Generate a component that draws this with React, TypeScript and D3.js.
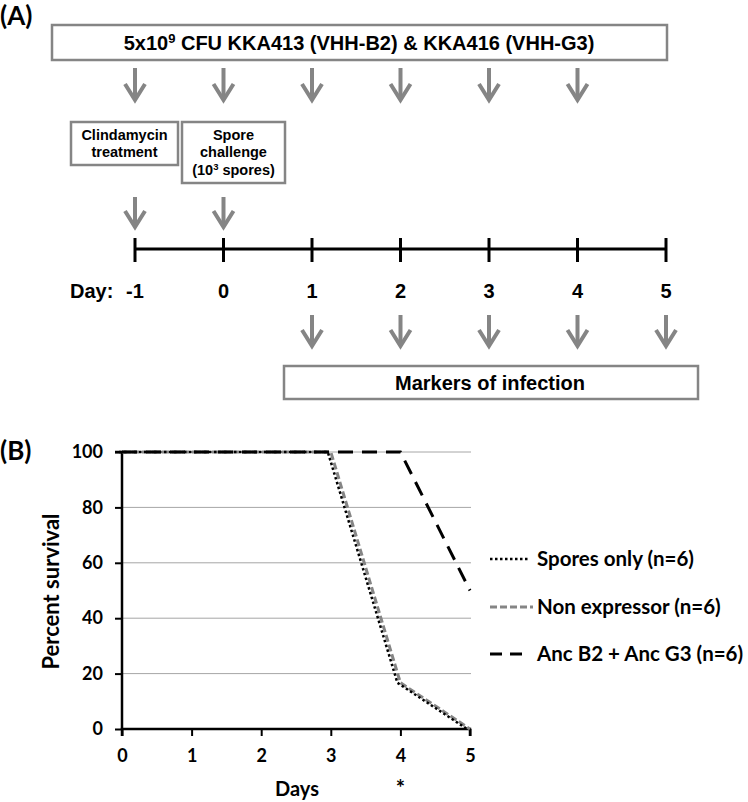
import React, { useEffect, useRef } from 'react';
import * as d3 from 'd3';

// (A) study timeline
const timelineDays = [-1, 0, 1, 2, 3, 4, 5];
const dosingDays = [-1, 0, 1, 2, 3, 4];
const treatmentDays = [-1, 0];
const markerDays = [1, 2, 3, 4, 5];

// (B) survival curves
const days = [0, 1, 2, 3, 4, 5];
const sporesOnly = [100, 100, 100, 100, 16.7, 0];
const nonExpressor = [100, 100, 100, 100, 16.7, 0];
const ancB2G3 = [100, 100, 100, 100, 100, 50];
const yTicks = [0, 20, 40, 60, 80, 100];
const seriesNames = ['Spores only (n=6)', 'Non expressor (n=6)', 'Anc B2 + Anc G3 (n=6)'];

const GREY = '#858585';
const ARIAL = '"Liberation Sans", Arial, sans-serif';
const CAL = 'Lato, "Open Sans", sans-serif';

const App = () => {
  const svgRef = useRef<SVGSVGElement>(null);

  useEffect(() => {
    const svg = d3.select(svgRef.current);
    svg.selectAll('*').remove();

    // ---------- panel A ----------
    const a = svg.append('g');
    const tx = d3.scaleLinear().domain([-1, 5]).range([135, 666]);

    a.append('text').attr('x', 0).attr('y', 25).attr('font-family', CAL)
      .attr('font-weight', 'bold').attr('font-size', 26).text('(A)');

    const box = (x0, y0, x1, y1) =>
      a.append('rect').attr('x', x0).attr('y', y0).attr('width', x1 - x0).attr('height', y1 - y0)
        .attr('fill', '#fff').attr('stroke', GREY).attr('stroke-width', 2.5);

    const arrow = (x, y0, y1) => {
      a.append('line').attr('x1', x).attr('x2', x).attr('y1', y0).attr('y2', y1 - 5)
        .attr('stroke', GREY).attr('stroke-width', 4);
      a.append('path').attr('d', `M${x - 10},${y1 - 19}L${x},${y1 - 3}L${x + 10},${y1 - 19}`)
        .attr('fill', 'none').attr('stroke', GREY).attr('stroke-width', 4);
    };

    // top box
    box(52, 25, 667, 60);
    const top = a.append('text').attr('x', 359).attr('y', 50).attr('text-anchor', 'middle')
      .attr('font-family', ARIAL).attr('font-weight', 'bold').attr('font-size', 20);
    top.append('tspan').text('5x10');
    top.append('tspan').attr('font-size', 13).attr('dy', -7).text('9');
    top.append('tspan').attr('dy', 7).text(' CFU KKA413 (VHH-B2) & KKA416 (VHH-G3)');

    dosingDays.forEach((d) => arrow(tx(d), 68, 103));

    // small boxes
    box(71, 122, 178, 165);
    box(182, 122, 285, 183);
    const small = (x, y, s) =>
      a.append('text').attr('x', x).attr('y', y).attr('text-anchor', 'middle')
        .attr('font-family', ARIAL).attr('font-weight', 'bold').attr('font-size', 14.5).text(s);
    small(124.5, 140, 'Clindamycin');
    small(124.5, 157, 'treatment');
    small(233.5, 140, 'Spore');
    small(233.5, 157, 'challenge');
    const sp = a.append('text').attr('x', 233.5).attr('y', 175).attr('text-anchor', 'middle')
      .attr('font-family', ARIAL).attr('font-weight', 'bold').attr('font-size', 14.5);
    sp.append('tspan').text('(10');
    sp.append('tspan').attr('font-size', 9.5).attr('dy', -5).text('3');
    sp.append('tspan').attr('dy', 5).text(' spores)');

    treatmentDays.forEach((d) => arrow(tx(d), 197, 230));

    // timeline
    a.append('line').attr('x1', tx(-1)).attr('x2', tx(5)).attr('y1', 249).attr('y2', 249)
      .attr('stroke', '#000').attr('stroke-width', 3);
    timelineDays.forEach((d) => {
      a.append('line').attr('x1', tx(d)).attr('x2', tx(d)).attr('y1', 238).attr('y2', 262)
        .attr('stroke', '#000').attr('stroke-width', 3);
      a.append('text').attr('x', tx(d)).attr('y', 298).attr('text-anchor', 'middle')
        .attr('font-family', ARIAL).attr('font-weight', 'bold').attr('font-size', 20).text(String(d));
    });
    a.append('text').attr('x', 70).attr('y', 298).attr('font-family', ARIAL)
      .attr('font-weight', 'bold').attr('font-size', 20).text('Day:');

    markerDays.forEach((d) => arrow(tx(d), 315, 349));
    box(284, 366, 698, 399);
    a.append('text').attr('x', 490).attr('y', 390).attr('text-anchor', 'middle')
      .attr('font-family', ARIAL).attr('font-weight', 'bold').attr('font-size', 20)
      .text('Markers of infection');

    // ---------- panel B ----------
    const b = svg.append('g');
    const x = d3.scaleLinear().domain([0, 5]).range([122, 470]);
    const y = d3.scaleLinear().domain([0, 100]).range([729, 452]);

    b.append('text').attr('x', 0).attr('y', 460).attr('font-family', CAL)
      .attr('font-weight', 'bold').attr('font-size', 26).text('(B)');

    // gridlines
    yTicks.filter((t) => t > 0).forEach((t) => {
      b.append('line').attr('x1', x(0)).attr('x2', x(5) + 1).attr('y1', y(t)).attr('y2', y(t))
        .attr('stroke', '#a6a6a6').attr('stroke-width', 1);
    });

    // axes
    const yAxis = b.append('g').attr('transform', `translate(${x(0)},0)`)
      .call(d3.axisLeft(y).tickValues(yTicks).tickFormat(d3.format('d')).tickSize(7).tickPadding(12));
    const xAxis = b.append('g').attr('transform', `translate(0,${y(0)})`)
      .call(d3.axisBottom(x).tickValues(days).tickFormat(d3.format('d')).tickSize(7).tickPadding(13));
    [yAxis, xAxis].forEach((g) => {
      g.select('.domain').attr('stroke', '#000').attr('stroke-width', 2.5);
      g.selectAll('.tick line').attr('stroke', '#000').attr('stroke-width', 2);
      g.selectAll('.tick text').attr('font-family', CAL).attr('font-weight', 'bold')
        .attr('font-size', 18).attr('fill', '#000');
    });
    yAxis.select('.domain').attr('d', `M-7,${y(100)}H0V${y(0)}`);
    xAxis.select('.domain').attr('d', `M${x(0)},7V0H${x(5)}V7`);

    b.append('text').attr('transform', `translate(59,${(y(0) + y(100)) / 2 + 1}) rotate(-90)`)
      .attr('text-anchor', 'middle').attr('font-family', CAL).attr('font-weight', 'bold')
      .attr('font-size', 22).text('Percent survival');
    b.append('text').attr('x', 297).attr('y', 796).attr('text-anchor', 'middle')
      .attr('font-family', CAL).attr('font-weight', 'bold').attr('font-size', 20).text('Days');
    b.append('text').attr('x', x(4)).attr('y', 796).attr('text-anchor', 'middle')
      .attr('font-family', CAL).attr('font-weight', 'bold').attr('font-size', 22).text('*');

    const line = d3.line<number>().x((_, i) => x(days[i])).y((v) => y(v));

    const styles = [
      { data: sporesOnly, stroke: '#000', width: 2.5, dash: '2.5,2.5', shift: -3 },
      { data: nonExpressor, stroke: GREY, width: 3, dash: '7,3', shift: 0 },
      { data: ancB2G3, stroke: '#000', width: 3, dash: '15,9', shift: 0 },
    ];
    const order = [1, 0, 2];
    order.forEach((k) => {
      const s = styles[k];
      b.append('path').datum(s.data).attr('transform', `translate(${s.shift},0)`)
        .attr('fill', 'none').attr('stroke', s.stroke).attr('stroke-width', s.width)
        .attr('stroke-dasharray', s.dash).attr('d', line);
    });

    // legend
    const legendY = [559, 607, 654];
    const legendDash = ['2.5,2.5', '7,3', '12,8'];
    const legendEnd = [530, 533, 522];
    seriesNames.forEach((name, i) => {
      b.append('line').attr('x1', 490).attr('x2', legendEnd[i]).attr('y1', legendY[i]).attr('y2', legendY[i])
        .attr('stroke', styles[i].stroke).attr('stroke-width', styles[i].width)
        .attr('stroke-dasharray', legendDash[i]);
      b.append('text').attr('x', 537).attr('y', legendY[i]).attr('dy', '0.35em')
        .attr('font-family', CAL).attr('font-weight', 'bold').attr('font-size', 20.5).text(name);
    });
  }, []);

  return (
    <svg ref={svgRef} width={748} height={802}
      style={{ position: 'absolute', left: 0, top: 0, background: '#fff', display: 'block' }} />
  );
};

export default App;
